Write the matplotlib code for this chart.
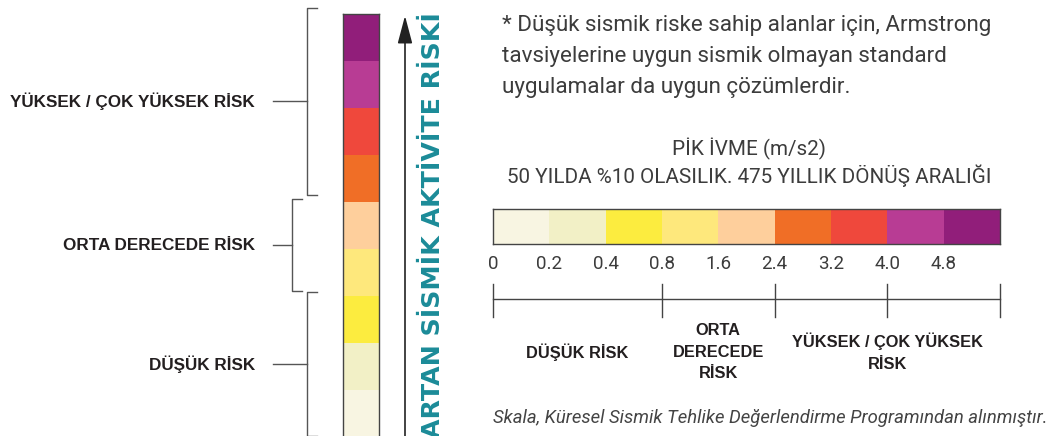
import matplotlib
matplotlib.use('Agg')
import matplotlib.pyplot as plt
from matplotlib.transforms import blended_transform_factory

W, H = 1046, 436

# Peak ground acceleration classes (m/s2), lowest to highest
CLASS_COLORS = ['#F8F5E2', '#F2F0C6', '#FCEC3F', '#FEE87C', '#FECF9C',
                '#F06E26', '#EF483C', '#B83C94', '#911E7A']
PGA_LABELS = ['0', '0.2', '0.4', '0.8', '1.6', '2.4', '3.2', '4.0', '4.8']

# risk groups, given as class boundaries
RISK_EDGES = [0, 3, 5, 9]
RISK_LEFT = ['DÜŞÜK RİSK', 'ORTA DERECEDE RİSK', 'YÜKSEK / ÇOK YÜKSEK RİSK']
RISK_BELOW = ['DÜŞÜK RİSK', 'ORTA\nDERECEDE\nRİSK', 'YÜKSEK / ÇOK YÜKSEK\nRİSK']
SCALE_MARKS = [0, 3, 5, 7, 9]

NOTE = ("* Düşük sismik riske sahip alanlar için, Armstrong\n"
        "tavsiyelerine uygun sismik olmayan standard\n"
        "uygulamalar da uygun çözümlerdir.")
SCALE_TITLE = "PİK İVME (m/s2)\n50 YILDA %10 OLASILIK. 475 YILLIK DÖNÜŞ ARALIĞI"
SOURCE = "Skala, Küresel Sismik Tehlike Değerlendirme Programından alınmıştır."
AXIS_TEXT = "ARTAN SİSMİK AKTİVİTE RİSKİ"

#
# layout / style
#
BOLD = ['Liberation Sans', 'DejaVu Sans']
LIGHT = ['Roboto', 'DejaVu Sans']
TEXT_GREY = '#3C3C3C'
LABEL_INK = '#231F20'
EDGE = '#444444'
TEAL = '#1B8B98'

# bracket x (pixels) and how far each bracket sticks out past its classes
BRACKET_X = [307, 292, 307]
BRACKET_PAD = [(0.02, 0.09), (0.10, 0.07), (0.15, 0.13)]


def fx(px):
    return px / W


def fy(py):
    return 1 - py / H


fig = plt.figure(figsize=(W / 100, H / 100), dpi=100)
n = len(CLASS_COLORS)

# vertical colour bar on the left
axv = fig.add_axes([fx(343), fy(437), fx(379) - fx(343), (437 - 14) / H])
axv.bar([0.5] * n, [1] * n, bottom=list(range(n)), width=1, color=CLASS_COLORS)
axv.set_xticks([])
axv.set_yticks([])
for s in axv.spines.values():
    s.set_color(EDGE)
    s.set_linewidth(1)

tv = blended_transform_factory(fig.transFigure, axv.transData)
for i, name in enumerate(RISK_LEFT):
    lo = RISK_EDGES[i] + BRACKET_PAD[i][0]
    hi = RISK_EDGES[i + 1] + BRACKET_PAD[i][1]
    bx = fx(BRACKET_X[i])
    tick = fx(BRACKET_X[i] + 10)
    mid = (lo + hi) / 2
    axv.plot([tick, bx, bx, tick], [lo, lo, hi, hi], transform=tv,
             clip_on=False, color='#555555', lw=1)
    axv.plot([fx(273), bx], [mid, mid], transform=tv, clip_on=False,
             color='#555555', lw=1)
    axv.text(fx(255), mid, name, transform=tv, ha='right', va='center',
             fontsize=12.3, fontweight='bold', family=BOLD, color=LABEL_INK)

axv.set_xlim(0, 1)
axv.set_ylim(0, n)

# rising arrow and its caption
axv.annotate('', xy=(fx(405), fy(13)), xytext=(fx(405), fy(440)),
             xycoords='figure fraction', textcoords='figure fraction',
             arrowprops=dict(arrowstyle='-|>,head_length=1.7,head_width=0.45',
                             mutation_scale=10, color='#222222', lw=1.2))
fig.text(fx(433), fy(225), AXIS_TEXT, rotation=90, ha='center', va='center',
         fontsize=18.2, fontweight='bold', color=TEAL)

# note at the top right
fig.text(fx(502), fy(15), NOTE, ha='left', va='top', fontsize=16.1,
         family=LIGHT, color=TEXT_GREY, linespacing=1.62)
fig.text(fx(749), fy(162), SCALE_TITLE, ha='center', va='center', fontsize=14.9,
         family=LIGHT, color=TEXT_GREY, linespacing=1.25)

# horizontal colour bar
axh = fig.add_axes([fx(493), fy(244), fx(1000) - fx(493), (244 - 209) / H])
axh.barh([0.5] * n, [1] * n, left=list(range(n)), height=1, color=CLASS_COLORS)
axh.set_xlim(0, n)
axh.set_ylim(0, 1)
axh.set_yticks([])
axh.set_xticks(list(range(n)))
axh.set_xticklabels(PGA_LABELS, fontsize=13.5, family=LIGHT, color=TEXT_GREY)
axh.tick_params(axis='x', length=0, pad=8)
for s in axh.spines.values():
    s.set_color(EDGE)
    s.set_linewidth(1)

# bracket scale under the bar
th = blended_transform_factory(axh.transData, fig.transFigure)
axh.plot([0, n], [fy(299), fy(299)], transform=th, clip_on=False, color=EDGE, lw=1)
for m in SCALE_MARKS:
    axh.plot([m, m], [fy(284), fy(317)], transform=th, clip_on=False, color=EDGE, lw=1)
for i, name in enumerate(RISK_BELOW):
    cx = (RISK_EDGES[i] + RISK_EDGES[i + 1]) / 2
    axh.text(cx, fy(352), name, transform=th, ha='center', va='center',
             multialignment='center', fontsize=11.8, fontweight='bold',
             family=BOLD, color=LABEL_INK, linespacing=1.55)

fig.text(fx(493), fy(418), SOURCE, ha='left', va='center', fontsize=13.3,
         family=LIGHT, style='italic', color='#444444')

fig.savefig('out.png', dpi=100)
